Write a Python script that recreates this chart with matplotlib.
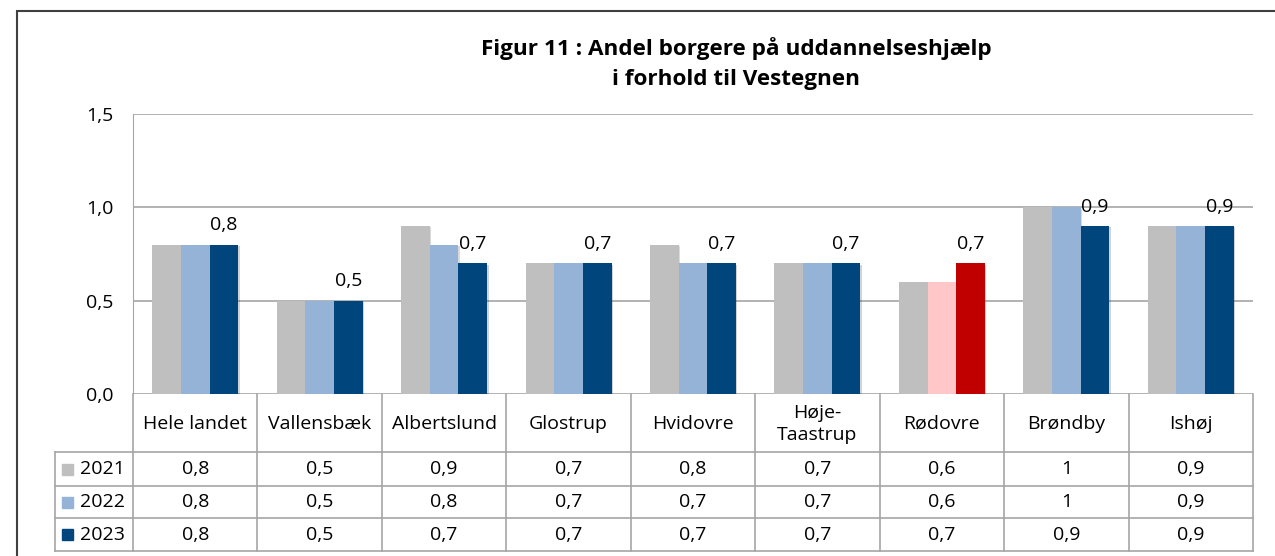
import matplotlib.pyplot as plt
import matplotlib.patheffects as pe
from matplotlib.patches import Rectangle
from matplotlib.ticker import FuncFormatter

plt.rcParams['font.family'] = ['Open Sans', 'DejaVu Sans']

kommuner = ['Hele landet', 'Vallensbæk', 'Albertslund', 'Glostrup', 'Hvidovre',
            'Høje-\nTaastrup', 'Rødovre', 'Brøndby', 'Ishøj']
aar = ['2021', '2022', '2023']
v2021 = [0.8, 0.5, 0.9, 0.7, 0.8, 0.7, 0.6, 1.0, 0.9]
v2022 = [0.8, 0.5, 0.8, 0.7, 0.7, 0.7, 0.6, 1.0, 0.9]
v2023 = [0.8, 0.5, 0.7, 0.7, 0.7, 0.7, 0.7, 0.9, 0.9]
tabel_2021 = ['0,8', '0,5', '0,9', '0,7', '0,8', '0,7', '0,6', '1', '0,9']
tabel_2022 = ['0,8', '0,5', '0,8', '0,7', '0,7', '0,7', '0,6', '1', '0,9']
tabel_2023 = ['0,8', '0,5', '0,7', '0,7', '0,7', '0,7', '0,7', '0,9', '0,9']

farver = ['#BFBFBF', '#95B3D7', '#00457C']
rodovre_farver = ['#BFBFBF', '#FFC7C7', '#C00000']

W, H = 1275, 556
fs = 14
fig = plt.figure(figsize=(W / 100, H / 100), dpi=100)

# ramme om hele diagrammet
fig.patches.append(Rectangle((17 / W, -0.1), 1.2, (H - 11) / H + 0.1,
                             transform=fig.transFigure, fill=False,
                             edgecolor='#404040', linewidth=1.5))

fig.text(736 / W, 1 - 49 / H, 'Figur 11 : Andel borgere på uddannelseshjælp',
         ha='center', va='center', fontsize=16.2, fontweight='bold')
fig.text(736 / W, 1 - 80 / H, 'i forhold til Vestegnen',
         ha='center', va='center', fontsize=16.2, fontweight='bold')

# plotområde
ax = fig.add_axes([133 / W, (H - 394) / H, 1120 / W, 280 / H])
ax.set_xlim(-0.5, 8.5)
ax.set_ylim(0, 1.5)
bw = 0.2305
skygge = [pe.SimplePatchShadow(offset=(1, -1), alpha=0.18), pe.Normal()]
serier = [v2021, v2022, v2023]
for j, vals in enumerate(serier):
    for i, v in enumerate(vals):
        c = rodovre_farver[j] if kommuner[i] == 'Rødovre' else farver[j]
        b = ax.bar(i + (j - 1) * bw, v, width=bw, color=c, zorder=3)
        b[0].set_path_effects(skygge)
for i, v in enumerate(v2023):
    ax.text(i + bw, v + 0.055, f'{v:.1f}'.replace('.', ','), ha='center',
            va='bottom', fontsize=fs, zorder=4)

ax.set_yticks([0, 0.5, 1.0, 1.5])
ax.yaxis.set_major_formatter(FuncFormatter(lambda y, p: f'{y:.1f}'.replace('.', ',')))
ax.tick_params(axis='y', length=0, pad=14, labelsize=fs)
ax.set_xticks([])
ax.grid(axis='y', color='#A6A6A6', linewidth=1.2, zorder=0)
for s in ['top', 'right', 'bottom']:
    ax.spines[s].set_visible(False)
ax.spines['left'].set_color('#A6A6A6')

# datatabel
tab = fig.add_axes([55 / W, (H - 551) / H, (1253 - 55) / W, 157 / H])
leg_w = 78 / 124.4
x0 = -0.5 - leg_w
tab.set_xlim(x0, 8.5)
tab.set_ylim(157, 0)
tab.axis('off')
lc = '#A6A6A6'
rows = [0, 58, 92, 124, 157]
for y in rows[1:]:
    tab.plot([x0, 8.5], [y, y], color=lc, linewidth=1.2, clip_on=False)
tab.plot([x0, x0], [58, 157], color=lc, linewidth=1.2, clip_on=False)
for k in range(10):
    tab.plot([k - 0.5, k - 0.5], [0, 157], color=lc, linewidth=1.2, clip_on=False)

for i, navn in enumerate(kommuner):
    tab.text(i, 30, navn, ha='center', va='center', fontsize=fs, linespacing=1.25)

tabeller = [tabel_2021, tabel_2022, tabel_2023]
for r, (a, rk) in enumerate(zip(aar, tabeller)):
    ym = (rows[r + 1] + rows[r + 2]) / 2
    tab.add_patch(Rectangle((x0 + 7 / 124.4, ym - 5.5), 11 / 124.4, 11,
                            color=farver[r], clip_on=False))
    tab.text(x0 + 25 / 124.4, ym, a, ha='left', va='center', fontsize=fs)
    for i, t in enumerate(rk):
        tab.text(i, ym, t, ha='center', va='center', fontsize=fs)

fig.savefig('out.png', dpi=100)
